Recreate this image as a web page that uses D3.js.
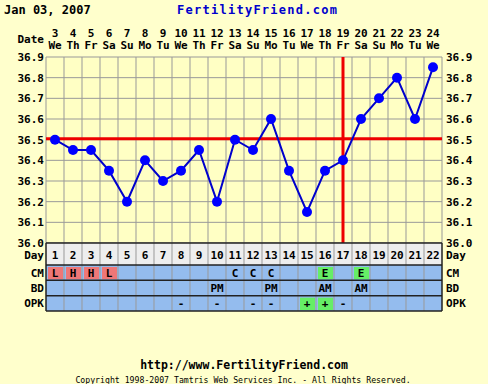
<!DOCTYPE html>
<html>
<head>
<meta charset="utf-8">
<script src="https://cdn.jsdelivr.net/npm/d3@7"></script>
<style>
  body { margin: 0; background: #ffffcc; }
  text { font-family: "DejaVu Sans Mono", monospace; font-weight: bold; }
</style>
</head>
<body>
<div id="chart"></div>
<script>
// cycle data, Jan 03 - Jan 24 2007
const cycleDays = d3.range(1, 23);
const dates = [3, 4, 5, 6, 7, 8, 9, 10, 11, 12, 13, 14, 15, 16, 17, 18, 19, 20, 21, 22, 23, 24];
const weekdays = ["We", "Th", "Fr", "Sa", "Su", "Mo", "Tu", "We", "Th", "Fr", "Sa", "Su", "Mo", "Tu", "We", "Th", "Fr", "Sa", "Su", "Mo", "Tu", "We"];
const temps = [36.5, 36.45, 36.45, 36.35, 36.2, 36.4, 36.3, 36.35, 36.45, 36.2, 36.5, 36.45, 36.6, 36.35, 36.15, 36.35, 36.4, 36.6, 36.7, 36.8, 36.6, 36.85];
const cm = ["L", "H", "H", "L", "", "", "", "", "", "", "C", "C", "C", "", "", "E", "", "E", "", "", "", ""];
const bd = ["", "", "", "", "", "", "", "", "", "PM", "", "", "PM", "", "", "AM", "", "AM", "", "", "", ""];
const opk = ["", "", "", "", "", "", "", "-", "", "-", "", "-", "-", "", "+", "+", "-", "", "", "", "", ""];
const yTicks = [36.0, 36.1, 36.2, 36.3, 36.4, 36.5, 36.6, 36.7, 36.8, 36.9];
const coverline = 36.505;
const ovulationDay = 17;

const W = 488, H = 384;
const plotLeft = 46, plotRight = 442, plotTop = 57, plotBottom = 243;

const svg = d3.select("#chart").append("svg")
    .attr("width", W)
    .attr("height", H);

svg.append("rect").attr("width", W).attr("height", H).attr("fill", "#ffffcc");

const x = d3.scaleBand().domain(cycleDays).range([plotLeft, plotRight]);
const y = d3.scaleLinear().domain([36.0, 36.9]).range([plotBottom, plotTop]);
const cx = d => x(d) + x.bandwidth() / 2;

// titles
svg.append("text").attr("x", 4).attr("y", 14).attr("font-size", 12).attr("fill", "#000")
    .text("Jan 03, 2007");
svg.append("text").attr("x", 257).attr("y", 14).attr("font-size", 12).attr("fill", "#0000cc")
    .attr("text-anchor", "middle").attr("textLength", 160)
    .text("FertilityFriend.com");

// date header
svg.append("text").attr("x", 44).attr("y", 43).attr("text-anchor", "end").attr("font-size", 11)
    .text("Date");
svg.selectAll("text.date").data(dates).join("text")
    .attr("class", "date")
    .attr("x", (d, i) => cx(cycleDays[i]))
    .attr("y", 37).attr("text-anchor", "middle").attr("font-size", 11)
    .text(d => d);
svg.selectAll("text.wday").data(weekdays).join("text")
    .attr("class", "wday")
    .attr("x", (d, i) => cx(cycleDays[i]))
    .attr("y", 49).attr("text-anchor", "middle").attr("font-size", 11)
    .text(d => d);

// grid
svg.append("rect").attr("x", plotLeft).attr("y", plotTop)
    .attr("width", plotRight - plotLeft).attr("height", plotBottom - plotTop)
    .attr("fill", "#ffffc4");
svg.selectAll("line.hgrid").data(yTicks).join("line")
    .attr("class", "hgrid")
    .attr("x1", plotLeft).attr("x2", plotRight)
    .attr("y1", d => y(d)).attr("y2", d => y(d))
    .attr("stroke", "#999").attr("stroke-width", 1);
svg.selectAll("line.vgrid").data(cycleDays.concat([23])).join("line")
    .attr("class", "vgrid")
    .attr("x1", d => d == 23 ? plotRight : x(d)).attr("x2", d => d == 23 ? plotRight : x(d))
    .attr("y1", plotTop).attr("y2", plotBottom)
    .attr("stroke", "#999").attr("stroke-width", 1);

// temp axes labels
svg.selectAll("text.ylab").data(yTicks).join("text")
    .attr("class", "ylab")
    .attr("x", 44).attr("y", d => y(d) + 4).attr("text-anchor", "end").attr("font-size", 11)
    .text(d => d.toFixed(1));
svg.selectAll("text.ylabr").data(yTicks).join("text")
    .attr("class", "ylabr")
    .attr("x", 446).attr("y", d => y(d) + 4).attr("font-size", 11)
    .text(d => d.toFixed(1));

// coverline + ovulation
svg.append("line")
    .attr("x1", plotLeft).attr("x2", plotRight).attr("y1", y(coverline)).attr("y2", y(coverline))
    .attr("stroke", "#ee0000").attr("stroke-width", 3);
svg.append("line")
    .attr("x1", cx(ovulationDay)).attr("x2", cx(ovulationDay))
    .attr("y1", plotTop).attr("y2", plotBottom)
    .attr("stroke", "#ee0000").attr("stroke-width", 3);

// temperature line
const line = d3.line()
    .x((d, i) => cx(cycleDays[i]))
    .y(d => y(d));
svg.append("path").datum(temps)
    .attr("d", line).attr("fill", "none").attr("stroke", "#0000cc").attr("stroke-width", 2);
svg.selectAll("circle.pt").data(temps).join("circle")
    .attr("class", "pt")
    .attr("cx", (d, i) => cx(cycleDays[i]))
    .attr("cy", d => y(d)).attr("r", 5).attr("fill", "#0000ff");

// bottom rows
const dayTop = 243, dayBottom = 265, rowsBottom = 311;
const rowNames = ["CM", "BD", "OPK"];
const rows = d3.scaleBand().domain(rowNames).range([dayBottom, rowsBottom]);

svg.append("rect").attr("x", plotLeft).attr("y", dayTop)
    .attr("width", plotRight - plotLeft).attr("height", dayBottom - dayTop)
    .attr("fill", "#eeeeee");
svg.append("rect").attr("x", plotLeft).attr("y", dayBottom)
    .attr("width", plotRight - plotLeft).attr("height", rowsBottom - dayBottom)
    .attr("fill", "#94bcee");
svg.selectAll("line.bgrid").data(cycleDays.slice(1)).join("line")
    .attr("class", "bgrid")
    .attr("x1", d => x(d)).attr("x2", d => x(d))
    .attr("y1", dayTop).attr("y2", rowsBottom)
    .attr("stroke", "#999");

const cellColor = { L: "#ee7777", H: "#ee7777", E: "#66ee66", "+": "#66ee66" };
const rowData = [["CM", cm], ["BD", bd], ["OPK", opk]];
rowData.forEach(([name, vals]) => {
  vals.forEach((v, i) => {
    if (!v) return;
    if (cellColor[v]) {
      svg.append("rect")
          .attr("x", x(cycleDays[i]) + 2).attr("y", rows(name) + 2)
          .attr("width", x.bandwidth() - 3).attr("height", rows.bandwidth() - 3)
          .attr("fill", cellColor[v]);
    }
    svg.append("text")
        .attr("x", cx(cycleDays[i])).attr("y", rows(name) + rows.bandwidth() / 2 + 4)
        .attr("text-anchor", "middle").attr("font-size", 11)
        .text(v);
  });
});

svg.selectAll("line.rowline").data([dayTop, dayBottom, rows("BD"), rows("OPK"), rowsBottom]).join("line")
    .attr("class", "rowline")
    .attr("x1", plotLeft).attr("x2", plotRight)
    .attr("y1", d => d).attr("y2", d => d)
    .attr("stroke", "#222").attr("stroke-width", 1.5);
svg.selectAll("line.sideline").data([plotLeft, plotRight]).join("line")
    .attr("class", "sideline")
    .attr("x1", d => d).attr("x2", d => d)
    .attr("y1", dayTop).attr("y2", rowsBottom)
    .attr("stroke", "#222").attr("stroke-width", 1.5);

svg.selectAll("text.daynum").data(cycleDays).join("text")
    .attr("class", "daynum")
    .attr("x", d => cx(d))
    .attr("y", 259).attr("text-anchor", "middle").attr("font-size", 11)
    .text(d => d);

const labels = [["Day", 259]].concat(rowNames.map(n => [n, rows(n) + rows.bandwidth() / 2 + 4]));
svg.selectAll("text.rowlabL").data(labels).join("text")
    .attr("class", "rowlabL")
    .attr("x", 44).attr("y", d => d[1]).attr("text-anchor", "end").attr("font-size", 11)
    .text(d => d[0]);
svg.selectAll("text.rowlabR").data(labels).join("text")
    .attr("class", "rowlabR")
    .attr("x", 446).attr("y", d => d[1]).attr("font-size", 11)
    .text(d => d[0]);

// footer
svg.append("text").attr("x", 244).attr("y", 369).attr("text-anchor", "middle").attr("font-size", 11.5)
    .text("http://www.FertilityFriend.com");
svg.append("text").attr("x", 243).attr("y", 383).attr("text-anchor", "middle").attr("font-size", 8.2)
    .style("font-weight", "normal")
    .text("Copyright 1998-2007 Tamtris Web Services Inc. - All Rights Reserved.");
</script>
</body>
</html>
